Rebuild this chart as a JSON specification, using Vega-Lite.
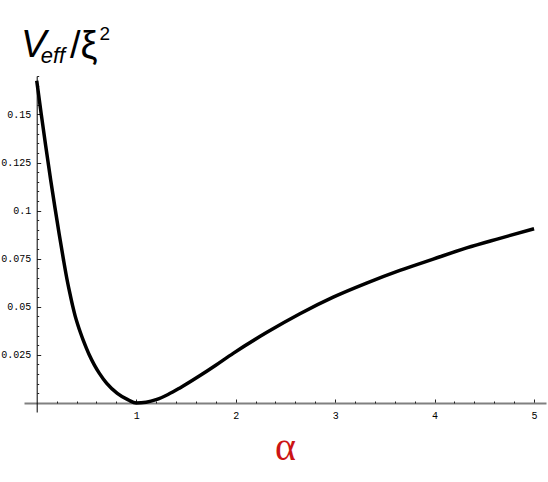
{
  "$schema": "https://vega.github.io/schema/vega-lite/v6.json",
  "autosize": {"type": "none"},
  "padding": {"left": 24, "top": 76, "right": 2, "bottom": 70},
  "width": 522,
  "height": 336,
  "background": "white",
  "config": {"view": {"stroke": null}},
  "datasets": {
    "curve": [
      {"alpha": 0.0, "V": 0.1675},
      {"alpha": 0.045, "V": 0.1503},
      {"alpha": 0.09, "V": 0.1337},
      {"alpha": 0.141, "V": 0.1157},
      {"alpha": 0.184, "V": 0.1013},
      {"alpha": 0.226, "V": 0.0877},
      {"alpha": 0.268, "V": 0.0748},
      {"alpha": 0.308, "V": 0.0633},
      {"alpha": 0.334, "V": 0.0568},
      {"alpha": 0.36, "V": 0.0507},
      {"alpha": 0.386, "V": 0.0453},
      {"alpha": 0.412, "V": 0.0408},
      {"alpha": 0.44, "V": 0.0365},
      {"alpha": 0.469, "V": 0.0324},
      {"alpha": 0.5, "V": 0.0284},
      {"alpha": 0.53, "V": 0.0248},
      {"alpha": 0.58, "V": 0.0197},
      {"alpha": 0.63, "V": 0.0154},
      {"alpha": 0.704, "V": 0.0102},
      {"alpha": 0.81, "V": 0.005},
      {"alpha": 0.92, "V": 0.0016},
      {"alpha": 1.0, "V": 0.0},
      {"alpha": 1.1, "V": 0.0004},
      {"alpha": 1.2, "V": 0.0017},
      {"alpha": 1.32, "V": 0.0044},
      {"alpha": 1.44, "V": 0.0078},
      {"alpha": 1.638, "V": 0.0141},
      {"alpha": 1.8, "V": 0.0196},
      {"alpha": 1.975, "V": 0.0258},
      {"alpha": 2.31, "V": 0.0366},
      {"alpha": 2.646, "V": 0.0464},
      {"alpha": 2.981, "V": 0.055},
      {"alpha": 3.316, "V": 0.0623},
      {"alpha": 3.651, "V": 0.0689},
      {"alpha": 3.986, "V": 0.0748},
      {"alpha": 4.322, "V": 0.0806},
      {"alpha": 4.656, "V": 0.0856},
      {"alpha": 5.0, "V": 0.0906}
    ]
  },
  "layer": [
    {
      "data": {"name": "curve"},
      "mark": {"type": "line", "color": "#000000", "strokeWidth": 3.5, "interpolate": "monotone", "clip": false},
      "encoding": {
        "x": {
          "field": "alpha", "type": "quantitative",
          "scale": {"domain": [-0.128, 5.12], "nice": false, "zero": false},
          "axis": {
            "orient": "bottom", "offset": -9, "values": [1, 2, 3, 4, 5], "format": "d",
            "domainColor": "#808080", "domainWidth": 2,
            "tickColor": "#222222", "tickSize": -4, "tickWidth": 1,
            "labelFont": "Liberation Mono", "labelFontSize": 10, "labelPadding": 11, "labelColor": "#000000",
            "grid": false,
            "title": "α", "titleFont": "Liberation Serif", "titleFontSize": 40, "titleColor": "#cc1414",
            "titleFontWeight": "normal", "titleY": 56, "titleBaseline": "alphabetic"
          }
        },
        "y": {
          "field": "V", "type": "quantitative",
          "scale": {"domain": [-0.0047, 0.17], "nice": false, "zero": false},
          "axis": {
            "orient": "left", "offset": -12.7, "values": [0.025, 0.05, 0.075, 0.1, 0.125, 0.15], "format": ".3~g",
            "domainColor": "#000000", "domainWidth": 1,
            "tickColor": "#222222", "tickSize": -4, "tickWidth": 1,
            "labelFont": "Liberation Mono", "labelFontSize": 10, "labelPadding": 10, "labelColor": "#000000",
            "grid": false, "title": null
          }
        }
      }
    },
    {
      "data": {"name": "curve"},
      "mark": {"type": "line", "opacity": 0},
      "encoding": {
        "x": {
          "field": "alpha", "type": "quantitative",
          "scale": {"domain": [-0.128, 5.12], "nice": false, "zero": false},
          "axis": {
            "orient": "bottom", "offset": -9,
            "values": [0.2, 0.4, 0.6, 0.8, 1.2, 1.4, 1.6, 1.8, 2.2, 2.4, 2.6, 2.8, 3.2, 3.4, 3.6, 3.8, 4.2, 4.4, 4.6, 4.8],
            "domain": false, "labels": false, "grid": false, "title": null,
            "tickColor": "#222222", "tickSize": -2, "tickWidth": 1
          }
        },
        "y": {
          "field": "V", "type": "quantitative",
          "scale": {"domain": [-0.0047, 0.17], "nice": false, "zero": false},
          "axis": {
            "orient": "left", "offset": -12.7,
            "values": [0.005, 0.01, 0.015, 0.02, 0.03, 0.035, 0.04, 0.045, 0.055, 0.06, 0.065, 0.07, 0.08, 0.085, 0.09, 0.095, 0.105, 0.11, 0.115, 0.12, 0.13, 0.135, 0.14, 0.145, 0.155, 0.16, 0.165, 0.17],
            "domain": false, "labels": false, "grid": false, "title": null,
            "tickColor": "#222222", "tickSize": -2, "tickWidth": 1
          }
        }
      }
    },
    {
      "data": {"values": [{"t": "V"}]},
      "mark": {"type": "text", "font": "Liberation Sans", "fontStyle": "italic", "fontSize": 38, "align": "left", "baseline": "alphabetic", "color": "#000000"},
      "encoding": {
        "text": {"field": "t"},
        "x": {"datum": -0.158, "type": "quantitative", "scale": {"domain": [-0.128, 5.12], "nice": false, "zero": false}, "axis": null},
        "y": {"datum": 0.1797, "type": "quantitative", "scale": {"domain": [-0.0047, 0.17], "nice": false, "zero": false}, "axis": null}
      }
    },
    {
      "data": {"values": [{"t": "eff"}]},
      "mark": {"type": "text", "font": "Liberation Sans", "fontStyle": "italic", "fontSize": 22, "align": "left", "baseline": "alphabetic", "color": "#000000"},
      "encoding": {
        "text": {"field": "t"},
        "x": {"datum": 0.04, "type": "quantitative", "scale": {"domain": [-0.128, 5.12], "nice": false, "zero": false}, "axis": null},
        "y": {"datum": 0.1766, "type": "quantitative", "scale": {"domain": [-0.0047, 0.17], "nice": false, "zero": false}, "axis": null}
      }
    },
    {
      "data": {"values": [{"t": "/ξ"}]},
      "mark": {"type": "text", "font": "Liberation Sans", "fontSize": 38, "align": "left", "baseline": "alphabetic", "color": "#000000"},
      "encoding": {
        "text": {"field": "t"},
        "x": {"datum": 0.335, "type": "quantitative", "scale": {"domain": [-0.128, 5.12], "nice": false, "zero": false}, "axis": null},
        "y": {"datum": 0.1796, "type": "quantitative", "scale": {"domain": [-0.0047, 0.17], "nice": false, "zero": false}, "axis": null}
      }
    },
    {
      "data": {"values": [{"t": "2"}]},
      "mark": {"type": "text", "font": "Liberation Sans", "fontSize": 19, "align": "left", "baseline": "alphabetic", "color": "#000000"},
      "encoding": {
        "text": {"field": "t"},
        "x": {"datum": 0.631, "type": "quantitative", "scale": {"domain": [-0.128, 5.12], "nice": false, "zero": false}, "axis": null},
        "y": {"datum": 0.1887, "type": "quantitative", "scale": {"domain": [-0.0047, 0.17], "nice": false, "zero": false}, "axis": null}
      }
    }
  ],
  "resolve": {"axis": {"x": "independent", "y": "independent"}}
}
